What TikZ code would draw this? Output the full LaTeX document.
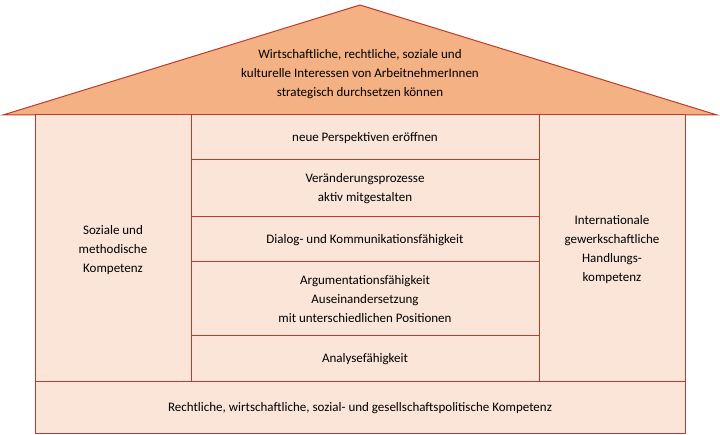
\documentclass[tikz,border=0pt]{standalone}
\usepackage{fontspec}
\setmainfont{Carlito}
\begin{document}
\begin{tikzpicture}[x=1pt,y=-1pt,
  box/.style={draw=edge,fill=wall,line width=1pt},
  txt/.style={align=center,font=\fontsize{13}{19}\selectfont,text=black}]
\definecolor{edge}{HTML}{C0392B}
\definecolor{wall}{HTML}{FBE4D8}
\definecolor{roof}{HTML}{F4B183}
\useasboundingbox (0,0) rectangle (720,435);
\filldraw[draw=edge,fill=roof,line width=1pt] (3,115) -- (360,5) -- (717,115) -- cycle;
\node[txt] (roofT) at (360,74) {Wirtschaftliche, rechtliche, soziale und\\kulturelle Interessen von ArbeitnehmerInnen\\strategisch durchsetzen können};
\draw[box] (35,115) rectangle (191,382);
\node[txt] (l) at (113,250) {Soziale und\\methodische\\Kompetenz};
\draw[box] (539,115) rectangle (685,382);
\node[txt] (r) at (612,250) {Internationale\\gewerkschaftliche\\Handlungs-\\kompetenz};
\draw[box] (35,382) rectangle (685,433);
\node[txt] (b) at (360,408) {Rechtliche, wirtschaftliche, sozial- und gesellschaftspolitische Kompetenz};
\draw[box] (191,115) rectangle (539,160);
\node[txt] (m1) at (365,138) {neue Perspektiven eröffnen};
\draw[box] (191,160) rectangle (539,217);
\node[txt] (m2) at (365,189) {Veränderungsprozesse\\aktiv mitgestalten};
\draw[box] (191,217) rectangle (539,262);
\node[txt] (m3) at (365,240) {Dialog- und Kommunikationsfähigkeit};
\draw[box] (191,262) rectangle (539,336);
\node[txt] (m4) at (365,299) {Argumentationsfähigkeit\\Auseinandersetzung\\mit unterschiedlichen Positionen};
\draw[box] (191,336) rectangle (539,382);
\node[txt] (m5) at (365,359) {Analysefähigkeit};
\end{tikzpicture}
\end{document}
